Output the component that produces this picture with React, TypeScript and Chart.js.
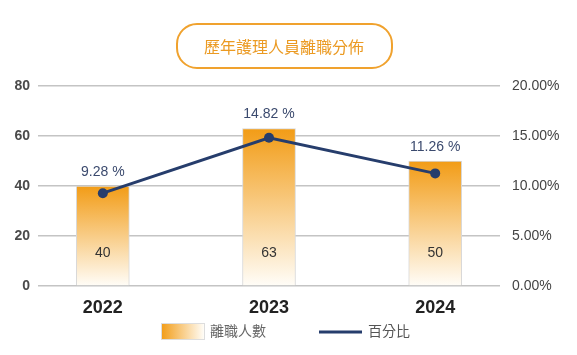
import React, { useEffect, useRef } from "react";
import { Chart, registerables } from "chart.js";

Chart.register(...registerables);

const years = ["2022", "2023", "2024"];
const leaveCounts = [40, 63, 50];
const leaveRates = [9.28, 14.82, 11.26];
const countTicks = [0, 20, 40, 60, 80];
const rateTicks = [0, 5, 10, 15, 20];

const chartTitle = "歷年護理人員離職分佈";
const barLegend = "離職人數";
const lineLegend = "百分比";

const FONT = '"Liberation Sans", Arial, "Noto Sans CJK TC", sans-serif';
const CJK = '"Noto Sans CJK TC", "Liberation Sans", sans-serif';
const ORANGE = "rgb(242,156,22)";
const NAVY = "#263d6c";

export default function App() {
  const ref = useRef<HTMLCanvasElement | null>(null);

  useEffect(() => {
    const canvas = ref.current;
    if (!canvas) return;

    const decor = {
      id: "decor",
      afterDatasetsDraw(chart: any) {
        const ctx = chart.ctx;
        const area = chart.chartArea;
        const meta = chart.getDatasetMeta(1);
        ctx.save();
        ctx.textAlign = "center";
        ctx.textBaseline = "middle";
        meta.data.forEach((bar: any, i: number) => {
          ctx.font = `14px ${FONT}`;
          ctx.fillStyle = "#333";
          ctx.fillText(String(leaveCounts[i]), bar.x, area.bottom - 33);
          ctx.fillStyle = "#3b4a6e";
          ctx.fillText(leaveRates[i].toFixed(2) + " %", bar.x, bar.y - 14);
        });
        ctx.restore();
      },
      afterDraw(chart: any) {
        const ctx = chart.ctx;
        ctx.save();
        ctx.beginPath();
        (ctx as any).roundRect(177, 24, 215, 44, 20);
        ctx.lineWidth = 2;
        ctx.strokeStyle = "#f0a22e";
        ctx.stroke();
        ctx.font = `16px ${CJK}`;
        ctx.fillStyle = "#eb9a22";
        ctx.textAlign = "center";
        ctx.textBaseline = "middle";
        ctx.fillText(chartTitle, 284, 47);
        const g = ctx.createLinearGradient(161, 0, 204, 0);
        g.addColorStop(0, ORANGE);
        g.addColorStop(1, "#fffdf8");
        ctx.fillStyle = g;
        ctx.fillRect(161, 323, 43, 16);
        ctx.lineWidth = 1;
        ctx.strokeStyle = "#dddddd";
        ctx.strokeRect(161.5, 323.5, 43, 16);
        ctx.font = `14px ${CJK}`;
        ctx.fillStyle = "#666";
        ctx.textAlign = "left";
        ctx.fillText(barLegend, 210, 331);
        ctx.beginPath();
        ctx.moveTo(319, 332);
        ctx.lineTo(362, 332);
        ctx.lineWidth = 3;
        ctx.strokeStyle = NAVY;
        ctx.stroke();
        ctx.fillStyle = "#555";
        ctx.fillText(lineLegend, 368, 331);
        ctx.restore();
      },
    };

    const chart = new Chart(canvas, {
      type: "bar",
      data: {
        datasets: [
          {
            type: "line",
            label: lineLegend,
            data: leaveRates.map((v, i) => ({ x: i, y: v })),
            yAxisID: "y1",
            borderColor: NAVY,
            backgroundColor: NAVY,
            borderWidth: 3,
            pointRadius: 5,
            pointBackgroundColor: NAVY,
            pointBorderWidth: 0,
            tension: 0,
          } as any,
          {
            type: "bar",
            label: barLegend,
            data: leaveCounts.map((v, i) => ({ x: i, y: v })),
            yAxisID: "y",
            barThickness: 53,
            borderColor: "#d8d8d8",
            borderWidth: 1,
            borderSkipped: "bottom",
            backgroundColor: (c: any) => {
              const ch = c.chart;
              const ys = ch.scales?.y;
              if (!ys || c.raw == null) return ORANGE;
              const top = ys.getPixelForValue(c.raw.y);
              const bottom = ys.getPixelForValue(0);
              if (!isFinite(top) || !isFinite(bottom) || top === bottom) return ORANGE;
              const g = ch.ctx.createLinearGradient(0, top, 0, bottom);
              g.addColorStop(0, ORANGE);
              g.addColorStop(1, "#fffdf8");
              return g;
            },
          } as any,
        ],
      },
      options: {
        responsive: false,
        animation: false,
        layout: { padding: { top: 86, left: 0, right: 0, bottom: 0 } },
        plugins: {
          legend: { display: false },
          tooltip: { enabled: false },
          title: { display: false },
        },
        scales: {
          x: {
            type: "linear",
            offset: false,
            min: -0.39,
            max: 2.39,
            grid: { display: false, offset: false },
            border: { display: false },
            afterBuildTicks: (s: any) => {
              s.ticks = years.map((_, i) => ({ value: i }));
            },
            afterFit: (s: any) => {
              s.height = 69;
            },
            ticks: {
              autoSkip: false,
              maxRotation: 0,
              padding: 3,
              color: "#222",
              font: { family: FONT, size: 18, weight: "bold" },
              callback: (v: any) => years[v] ?? "",
            },
          },
          y: {
            position: "left",
            min: 0,
            max: 80,
            afterBuildTicks: (s: any) => {
              s.ticks = countTicks.map((v) => ({ value: v }));
            },
            afterFit: (s: any) => {
              s.width = 38;
            },
            grid: { color: "#c4c4c4", lineWidth: 1.5, drawTicks: false },
            border: { display: false },
            ticks: {
              padding: 8,
              color: "#4a4a4a",
              font: { family: FONT, size: 14, weight: "bold" },
            },
          },
          y1: {
            position: "right",
            min: 0,
            max: 20,
            afterBuildTicks: (s: any) => {
              s.ticks = rateTicks.map((v) => ({ value: v }));
            },
            afterFit: (s: any) => {
              s.width = 77;
            },
            grid: { display: false, drawTicks: false },
            border: { display: false },
            ticks: {
              padding: 12,
              color: "#444",
              font: { family: FONT, size: 14 },
              callback: (v: any) => Number(v).toFixed(2) + "%",
            },
          },
        },
      } as any,
      plugins: [decor],
    });

    return () => chart.destroy();
  }, []);

  return (
    <div style={{ position: "fixed", left: 0, top: 0, width: 577, height: 355, background: "#fff" }}>
      <canvas ref={ref} width={577} height={355} style={{ display: "block" }} />
    </div>
  );
}
